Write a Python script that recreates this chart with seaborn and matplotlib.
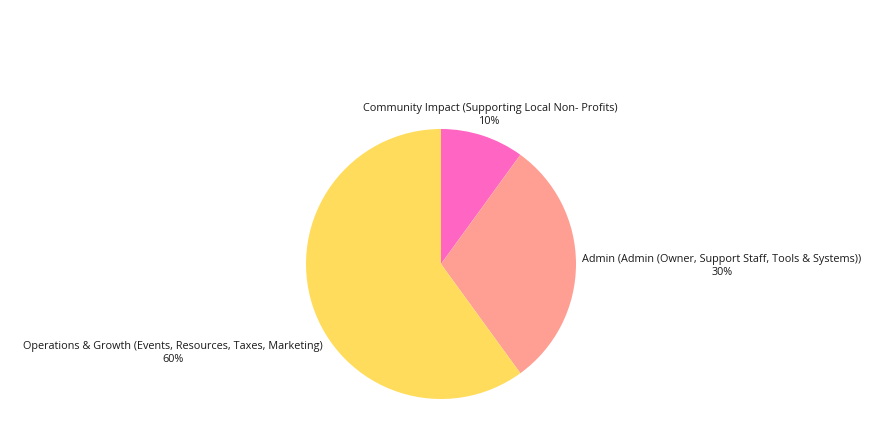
import matplotlib
matplotlib.use("Agg")
import matplotlib.pyplot as plt
import seaborn as sns

categories = [
    "Community Impact (Supporting Local Non- Profits)",
    "Admin (Admin (Owner, Support Staff, Tools & Systems))",
    "Operations & Growth (Events, Resources, Taxes, Marketing)",
]
values = [10, 30, 60]
colors = ["#FF66C4", "#FF9E93", "#FFDC5C"]

sns.set_theme(style="white")
plt.rcParams["font.family"] = ["Open Sans", "DejaVu Sans"]

fig = plt.figure(figsize=(8.85, 4.37), dpi=100)
fig.patch.set_facecolor("white")
ax = fig.add_axes([306 / 885, 38 / 437, 270 / 885, 270 / 437])
wedges, _ = ax.pie(values, colors=sns.color_palette(colors), startangle=90,
                   counterclock=False, radius=1.0,
                   wedgeprops=dict(linewidth=0))
ax.set_xlim(-1, 1)
ax.set_ylim(-1, 1)
ax.set_aspect("equal")
ax.axis("off")

label_pos = [(0.363, 1.104), (2.08, -0.016), (-1.985, -0.659)]
total = sum(values)
for cat, v, (x, y) in zip(categories, values, label_pos):
    ax.text(x, y, f"{cat}\n{v / total * 100:.0f}%", ha="center", va="center",
            fontsize=7.85, color="#1a1a1a", linespacing=1.3, clip_on=False)

fig.savefig("out.png", dpi=100, facecolor="white")
